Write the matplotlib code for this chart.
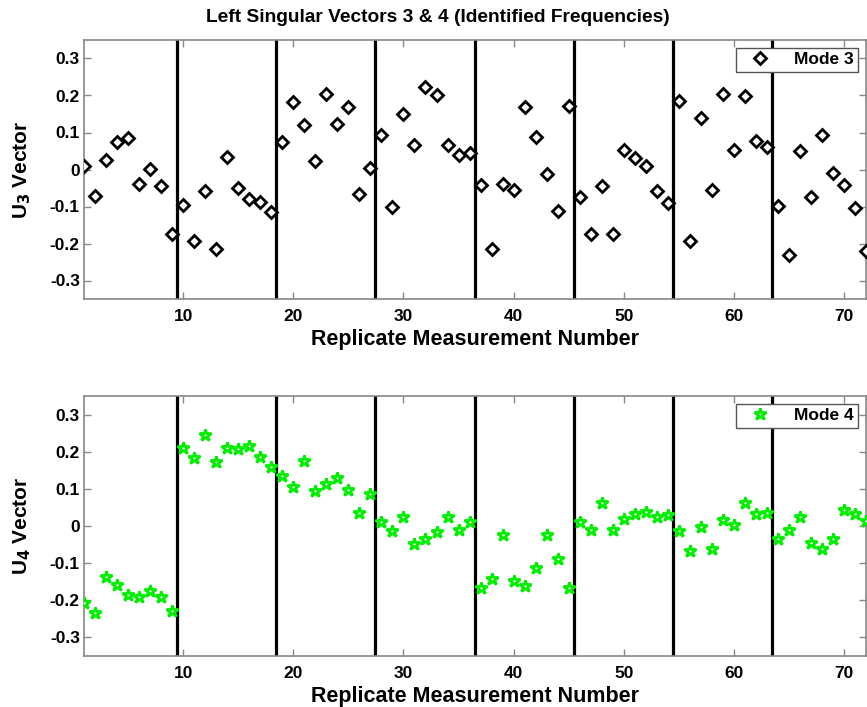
import matplotlib
matplotlib.use("Agg")
import matplotlib.pyplot as plt

plt.rcParams["font.family"] = ["Liberation Sans", "DejaVu Sans"]
plt.rcParams["font.weight"] = "bold"

replicate = list(range(1, 73))

mode3 = [
    0.010, -0.072, 0.025, 0.073, 0.085, -0.038, 0.002, -0.045, -0.174,
    -0.097, -0.194, -0.058, -0.216, 0.033, -0.050, -0.081, -0.088, -0.116,
    0.074, 0.183, 0.119, 0.023, 0.204, 0.122, 0.170, -0.065, 0.003,
    0.094, -0.100, 0.150, 0.065, 0.222, 0.201, 0.066, 0.038, 0.044,
    -0.041, -0.216, -0.039, -0.056, 0.168, 0.088, -0.011, -0.113, 0.172,
    -0.073, -0.175, -0.044, -0.175, 0.052, 0.032, 0.010, -0.058, -0.090,
    0.185, -0.194, 0.139, -0.056, 0.204, 0.054, 0.198, 0.077, 0.061,
    -0.099, -0.231, 0.049, -0.073, 0.092, -0.009, -0.041, -0.103, -0.219,
]

mode4 = [
    -0.207, -0.235, -0.137, -0.158, -0.187, -0.192, -0.175, -0.191, -0.228,
    0.210, 0.184, 0.246, 0.172, 0.210, 0.208, 0.215, 0.187, 0.159,
    0.134, 0.105, 0.176, 0.094, 0.114, 0.129, 0.098, 0.034, 0.086,
    0.011, -0.013, 0.024, -0.049, -0.034, -0.016, 0.024, -0.012, 0.011,
    -0.166, -0.143, -0.023, -0.149, -0.161, -0.113, -0.023, -0.088, -0.167,
    0.011, -0.012, 0.062, -0.012, 0.020, 0.033, 0.039, 0.024, 0.030,
    -0.013, -0.067, -0.004, -0.061, 0.016, 0.004, 0.063, 0.032, 0.035,
    -0.036, -0.011, 0.025, -0.047, -0.062, -0.034, 0.043, 0.032, 0.013,
]

separators = [9.45, 18.45, 27.45, 36.45, 45.45, 54.45, 63.45]
x_ticks = [10, 20, 30, 40, 50, 60, 70]
y_ticks = [-0.3, -0.2, -0.1, 0, 0.1, 0.2, 0.3]
y_tick_labels = ["-0.3", "-0.2", "-0.1", "0", "0.1", "0.2", "0.3"]

fig = plt.figure(figsize=(8.67, 7.07), dpi=100)
ax_top = fig.add_axes([84 / 867, 1 - 299 / 707, 1 - 84 / 867 - 0.001, 259 / 707])
ax_bottom = fig.add_axes([84 / 867, 1 - 656 / 707, 1 - 84 / 867 - 0.001, 260 / 707])

panels = [
    (ax_top, mode3, "D", "black", "Mode 3", r"U$_3$ Vector", 6.5),
    (ax_bottom, mode4, "*", "#00ee00", "Mode 4", r"U$_4$ Vector", 9),
]

for ax, values, marker, color, label, ylabel, size in panels:
    ax.plot(
        replicate,
        values,
        linestyle="none",
        marker=marker,
        markersize=size,
        markerfacecolor="white",
        markeredgecolor=color,
        markeredgewidth=2,
        label=label,
        zorder=3,
    )
    for position in separators:
        ax.axvline(position, color="black", linewidth=2.3, zorder=2)

    ax.set_xlim(1, 72)
    ax.set_ylim(-0.35, 0.35)
    ax.set_xticks(x_ticks)
    ax.set_yticks(y_ticks)
    ax.set_yticklabels(y_tick_labels)
    ax.tick_params(
        direction="in",
        length=5,
        width=1,
        color="#888888",
        top=True,
        right=True,
        labelsize=12.5,
        pad=3,
    )
    ax.tick_params(axis="x", pad=7)
    for spine in ax.spines.values():
        spine.set_color("#888888")
        spine.set_linewidth(1.2)

    ax.set_xlabel("Replicate Measurement Number", fontsize=15.5, fontweight="bold", labelpad=4)
    ax.set_ylabel(ylabel, fontsize=15, fontweight="bold", labelpad=12)

    legend = ax.legend(
        loc="upper right",
        bbox_to_anchor=(0.99, 0.97),
        borderaxespad=0,
        fontsize=12.5,
        frameon=True,
        fancybox=False,
        handletextpad=0.9,
        borderpad=0.25,
        handlelength=2.2,
    )
    legend.get_frame().set_edgecolor("#555555")
    legend.get_frame().set_linewidth(1)
    legend.get_frame().set_alpha(1)
    legend.set_zorder(5)

fig.text(
    438 / 867,
    1 - 18 / 707,
    "Left Singular Vectors 3 & 4 (Identified Frequencies)",
    fontsize=13.8,
    fontweight="bold",
    ha="center",
    va="center",
)

fig.savefig("out.png", dpi=100)
